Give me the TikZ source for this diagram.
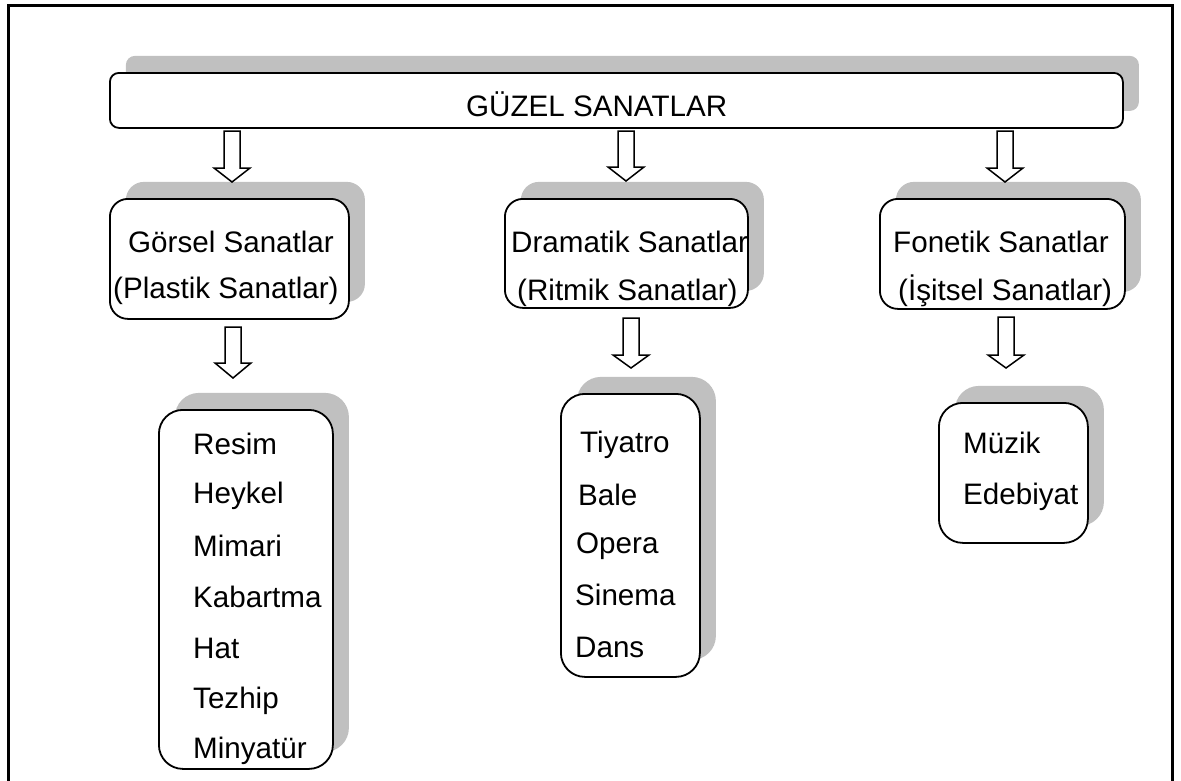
\documentclass[tikz,border=0pt]{standalone}
\usepackage{fontspec}
\setmainfont{Liberation Sans}
\usetikzlibrary{shadows}
\definecolor{shade}{RGB}{192,192,192}
\tikzset{
  box/.style={draw=black, line width=1.8pt, fill=white, rounded corners=#1,
    general shadow={shadow xshift=16pt, shadow yshift=17pt, fill=shade},
    inner sep=0pt, anchor=north west},
  arr/.style={draw=black, line width=1.5pt, fill=white, line join=miter},
  lbl/.style={anchor=base west, inner sep=0pt, font=\fontsize{29.6}{34}\selectfont},
  frame/.style={draw=black, line width=3pt}
}
\newcommand\blockarr[5]{% name, x, ytop, ytip, headlen
  \coordinate (#1) at (#2,#4);
  \draw[arr] ({#2-8},#3) -- ({#2+8},#3) -- ({#2+8},{#4-#5}) -- ({#2+18},{#4-#5})
    -- (#1) -- ({#2-18},{#4-#5}) -- ({#2-8},{#4-#5}) -- cycle;}
\begin{document}
\begin{tikzpicture}[x=1pt,y=-1pt]
\useasboundingbox (0,0) rectangle (1181,780);
\draw[frame] (8,790) -- (8,5) -- (1172,5) -- (1172,790);

% boxes
\node[box=9pt,  minimum width=1013pt, minimum height=55pt]  (top)   at (109,72)  {};
\node[box=18pt, minimum width=239pt,  minimum height=120pt] (gor)   at (109,198) {};
\node[box=18pt, minimum width=243pt,  minimum height=109pt] (dram)  at (504,198) {};
\node[box=18pt, minimum width=245pt,  minimum height=110pt] (fon)   at (879,198) {};
\node[box=24pt, minimum width=174pt,  minimum height=359pt] (resim) at (158,409) {};
\node[box=24pt, minimum width=139pt,  minimum height=283pt] (tiy)   at (560,393) {};
\node[box=24pt, minimum width=149pt,  minimum height=140pt] (muz)   at (938,402) {};

% block arrows
\blockarr{a1}{232}{131}{182}{14}
\blockarr{a2}{626}{131}{181}{14}
\blockarr{a3}{1005}{131}{182}{14}
\blockarr{a4}{233}{327}{378}{15}
\blockarr{a5}{631}{318}{368}{13}
\blockarr{a6}{1006}{317}{368}{13}

% texts
\node[lbl] (t0) at (466,116) {GÜZEL SANATLAR};
\node[lbl] (t1) at (128,252) {Görsel Sanatlar};
\node[lbl] (t2) at (113,298) {(Plastik Sanatlar)};
\node[lbl] (t3) at (511,252) {Dramatik Sanatlar};
\node[lbl] (t4) at (517,300) {(Ritmik Sanatlar)};
\node[lbl] (t5) at (893,252) {Fonetik Sanatlar};
\node[lbl] (t6) at (898,300) {(İşitsel Sanatlar)};

\node[lbl] (r1) at (193,454) {Resim};
\node[lbl] (r2) at (193,503) {Heykel};
\node[lbl] (r3) at (193,556) {Mimari};
\node[lbl] (r4) at (193,607) {Kabartma};
\node[lbl] (r5) at (193,658) {Hat};
\node[lbl] (r6) at (193,708) {Tezhip};
\node[lbl] (r7) at (193,758) {Minyatür};

\node[lbl] (d1) at (580,452) {Tiyatro};
\node[lbl] (d2) at (578,505) {Bale};
\node[lbl] (d3) at (576,553) {Opera};
\node[lbl] (d4) at (575,605) {Sinema};
\node[lbl] (d5) at (575,657) {Dans};

\node[lbl] (m1) at (963,453) {Müzik};
\node[lbl] (m2) at (963,504) {Edebiyat};
\end{tikzpicture}
\end{document}
